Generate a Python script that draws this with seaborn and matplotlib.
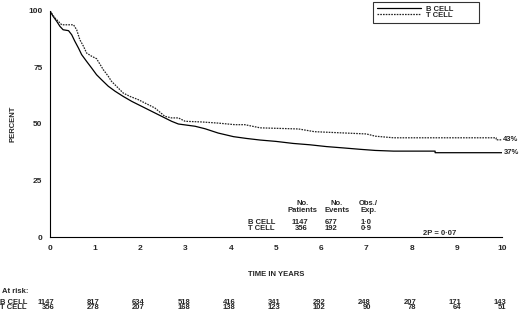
import numpy as np
import pandas as pd
import matplotlib
matplotlib.use('Agg')
from matplotlib import pyplot as plt
from matplotlib import transforms
import seaborn as sns

sns.set_style('white')
plt.rcParams['font.family'] = ['Liberation Sans', 'DejaVu Sans']
plt.rcParams['font.weight'] = 'bold'

# survival curves (years, percent)
b_time = [0, 0.07, 0.15, 0.22, 0.29, 0.41, 0.48, 0.55, 0.63, 0.70, 0.81, 0.92, 1.03, 1.14,
          1.29, 1.44, 1.62, 1.81, 2.03, 2.25, 2.47, 2.69, 2.84, 3.21, 3.43, 3.72, 4.06, 4.35,
          4.65, 5.0, 5.38, 5.75, 6.12, 6.5, 6.86, 7.2, 7.6, 8.52, 8.52, 10.0]
b_pct = [100, 97.6, 95.4, 93.2, 91.7, 91.3, 89.5, 86.6, 83.6, 80.7, 77.7, 74.8, 71.8, 69.6,
         66.7, 64.5, 62.2, 60.0, 57.8, 55.6, 53.4, 51.2, 50.0, 49.0, 47.9, 46.0, 44.4, 43.6,
         42.9, 42.3, 41.4, 40.8, 40.0, 39.4, 38.8, 38.3, 38.0, 38.0, 37.3, 37.3]
t_time = [0, 0.11, 0.22, 0.26, 0.52, 0.59, 0.66, 0.74, 0.81, 0.92, 1.03, 1.11, 1.18, 1.29,
          1.36, 1.47, 1.62, 1.77, 1.95, 2.10, 2.32, 2.54, 2.69, 2.84, 2.99, 3.36, 3.72, 4.09,
          4.31, 4.65, 5.5, 5.85, 7.0, 7.2, 7.6, 9.87, 9.87, 10.0]
t_pct = [100, 96.9, 94.7, 93.9, 93.9, 91.7, 87.3, 84.4, 81.4, 80.0, 78.9, 76.3, 74.0, 71.1,
         68.9, 66.7, 63.7, 62.2, 60.8, 59.3, 57.1, 53.4, 52.7, 52.7, 51.2, 50.9, 50.4, 49.7,
         49.7, 48.3, 47.8, 46.6, 45.6, 44.6, 43.9, 43.9, 43.0, 43.0]

groups = ['B CELL', 'T CELL']
end_labels = ['37%', '43%']
n_patients = [1147, 356]
n_events = [677, 192]
obs_exp = ['1·0', '0·9']
p_text = '2P = 0·07'

years = list(range(11))
b_risk = [1147, 817, 634, 518, 416, 341, 292, 248, 207, 171, 143]
t_risk = [356, 278, 207, 168, 138, 123, 102, 90, 78, 64, 51]

df = pd.concat([
    pd.DataFrame({'time': b_time, 'pct': b_pct, 'group': 'B CELL'}),
    pd.DataFrame({'time': t_time, 'pct': t_pct, 'group': 'T CELL'}),
])

fs = 5.5
fig = plt.figure(figsize=(5.2, 3.13), dpi=100)
ax = fig.add_axes([50 / 520, 1 - 237 / 313, 452 / 520, 226 / 313])

sns.lineplot(data=df, x='time', y='pct', hue='group', style='group',
             palette={'B CELL': 'black', 'T CELL': '#222222'},
             dashes={'B CELL': '', 'T CELL': (1.3, 0.9)},
             linewidth=0.9, estimator=None, sort=False,
             legend=False, ax=ax)

ax.set(xlim=(0, 10), ylim=(0, 100))
ax.set_xticks(years)
ax.set_yticks([0, 25, 50, 75, 100])
ax.set_xlabel('')
ax.set_ylabel('')
sns.despine(ax=ax)
for s in ['left', 'bottom']:
    ax.spines[s].set_linewidth(0.8)
    ax.spines[s].set_color('black')
ax.tick_params(axis='y', direction='out', length=3, width=0.7, pad=2.5, labelsize=6)
ax.tick_params(axis='x', direction='inout', length=5, width=0.7, pad=3.5, labelsize=6)

fig.text(13 / 520, 1 - 124 / 313, 'PERCENT', rotation=90, ha='center', va='center', fontsize=fs)
fig.text(276 / 520, 1 - 275 / 313, 'TIME IN YEARS', ha='center', va='center', fontsize=fs)

# end-of-curve labels
for lab, yv in zip(end_labels, [b_pct[-1], t_pct[-1]]):
    ax.text(10.03, yv, lab, ha='left', va='center', fontsize=fs, clip_on=False)

# summary table
for xv, head in zip([5.59, 6.35, 7.04], ['No.\nPatients', 'No.\nEvents', 'Obs./\nExp.']):
    ax.text(xv, 13.3, head, ha='center', va='center', fontsize=fs, linespacing=1.05)
ax.text(4.37, 5.2, '\n'.join(groups), ha='left', va='center', fontsize=fs, linespacing=0.8)
ax.text(5.71, 5.2, '\n'.join(str(n) for n in n_patients), ha='right', va='center',
        multialignment='right', fontsize=fs, linespacing=0.8)
ax.text(6.22, 5.2, '\n'.join(str(n) for n in n_events), ha='center', va='center',
        fontsize=fs, linespacing=0.8)
ax.text(6.99, 5.2, '\n'.join(obs_exp), ha='center', va='center', fontsize=fs, linespacing=0.8)
ax.text(8.62, 1.6, p_text, ha='center', va='center', fontsize=fs)

# numbers at risk
trans = transforms.blended_transform_factory(ax.transData, fig.transFigure)
fig.text(2 / 520, 1 - 291.5 / 313, 'At risk:', ha='left', va='center', fontsize=fs)
y_rows = 1 - 305.2 / 313
fig.text(0.5 / 520, y_rows, '\n'.join(groups), ha='left', va='center', fontsize=fs, linespacing=0.68)
for x, nb, nt in zip(years, b_risk, t_risk):
    ax.text(x + 0.1, y_rows, f'{nb}\n{nt}', transform=trans, ha='right', va='center',
            multialignment='right', fontsize=fs, linespacing=0.68, clip_on=False)

leg = fig.legend(handles=ax.lines[:2], labels=groups, loc='upper left',
                 bbox_to_anchor=(373 / 520, 1 - 23.5 / 313, 106 / 520, 21.8 / 313),
                 mode='expand', fontsize=fs, frameon=True, fancybox=False,
                 handlelength=5.8, handletextpad=0.65, labelspacing=-0.2,
                 borderpad=0.5, borderaxespad=0)
leg.get_frame().set_edgecolor('black')
leg.get_frame().set_linewidth(0.8)

fig.savefig('out.png', dpi=100)
